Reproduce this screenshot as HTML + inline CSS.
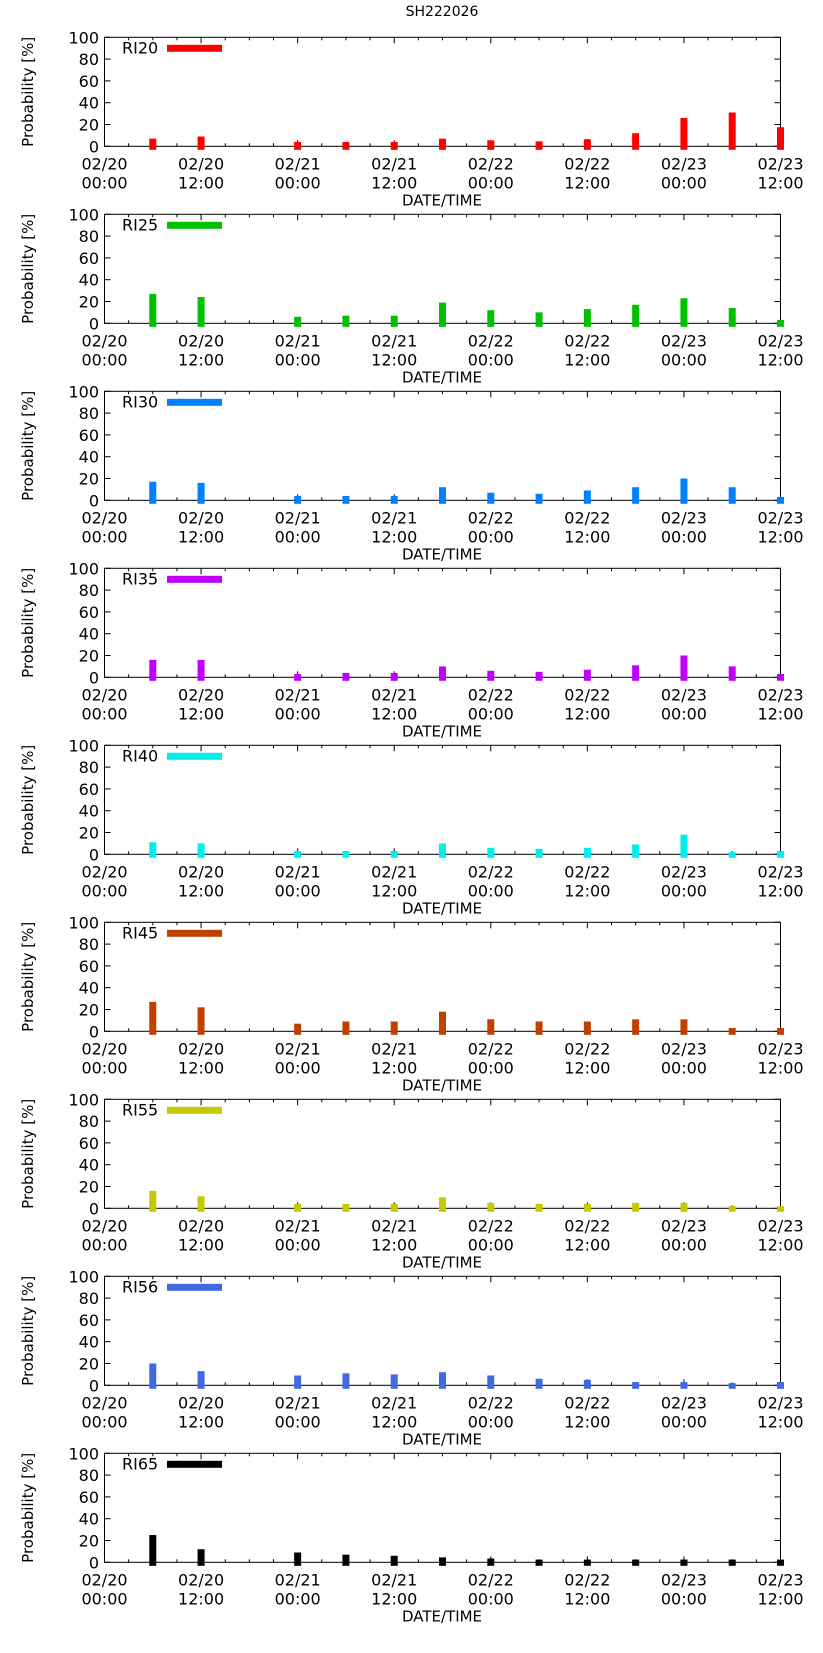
<!DOCTYPE html>
<html><head><meta charset="utf-8"><style>
html,body{margin:0;padding:0;background:#fff;}
svg{display:block;font-family:"DejaVu Sans","Liberation Sans",sans-serif;}
</style></head><body>
<svg id="chart" width="823" height="1653" viewBox="0 0 823 1653" xmlns="http://www.w3.org/2000/svg">
<text x="442" y="16" text-anchor="middle" font-size="14">SH222026</text>
</svg>
<script>
const seriesNames = ["RI20","RI25","RI30","RI35","RI40","RI45","RI55","RI56","RI65"];
const seriesColors = ["#ff0000","#00c000","#0080ff","#c000ff","#00eeee","#c04000","#c8c800","#4169e1","#000000"];
const hours = [6,12,24,30,36,42,48,54,60,66,72,78,84];
const ri20 = [7,9,4,4,4,7,5.5,4.5,6.5,12,26,31,17.5];
const ri25 = [27,24,6,7,7,19,12,10,13,17,23,14,3];
const ri30 = [17,16,4,4,4,12,7,6,9,12,20,12,3];
const ri35 = [16,16,3,4,4,10,6,5,7,11,20,10,3];
const ri40 = [11,10,3,3,3,10,6,5,6,9,18,2,3];
const ri45 = [27,22,7,9,9,18,11,9,9,11,11,3,3];
const ri55 = [16,11,4,4,4,10,5,4,4,5,5,2,2];
const ri56 = [20,13,9,11,10,12,9,6,5,3,3,2,3];
const ri65 = [25,12,9,7,6,4.5,3.5,2.5,2.5,2.5,2.5,2.5,2.5];
const allSeries = [ri20,ri25,ri30,ri35,ri40,ri45,ri55,ri56,ri65];
const yTicks = [0,20,40,60,80,100];
const xTickHours = [0,12,24,36,48,60,72,84];
const xTickDates = ["02/20","02/20","02/21","02/21","02/22","02/22","02/23","02/23"];
const xTickTimes = ["00:00","12:00","00:00","12:00","00:00","12:00","00:00","12:00"];

const NS="http://www.w3.org/2000/svg";
const svg=document.getElementById('chart');
const L=104.5,R=780.5,H=109,XMAX=84;
function mk(tag,attrs,parent){const e=document.createElementNS(NS,tag);for(const k in attrs)e.setAttribute(k,attrs[k]);(parent||svg).appendChild(e);return e;}
function xs(h){return L+(R-L)*h/XMAX;}

allSeries.forEach((vals,i)=>{
  const top=37.3+177*i, zero=top+H;
  const ys=v=>zero-H*v/100;
  const g=mk('g',{});
  
  
  const frame=mk('rect',{x:L,y:top,width:R-L,height:H,fill:'none',stroke:'#000','stroke-width':1},g);
  
  
  yTicks.forEach(t=>{
    const y=ys(t);
    mk('line',{x1:L,y1:y,x2:L+6,y2:y,stroke:'#000'},g);
    mk('line',{x1:R-6,y1:y,x2:R,y2:y,stroke:'#000'},g);
    const tl=mk('text',{x:99,y:y+6,'text-anchor':'end','font-size':16},g);
    tl.textContent=t;
    
    
  });
  for(let h=0;h<=XMAX;h+=3){
    const big=h%12===0, len=big?6:3;
    mk('line',{x1:xs(h),y1:zero,x2:xs(h),y2:zero-len,stroke:'#000'},g);
    mk('line',{x1:xs(h),y1:top,x2:xs(h),y2:top+len,stroke:'#000'},g);
  }
  xTickHours.forEach((h,k)=>{
    const a=mk('text',{x:xs(h),y:zero+23,'text-anchor':'middle','font-size':16},g);
    a.textContent=xTickDates[k];
    
    
    const b=mk('text',{x:xs(h),y:zero+42,'text-anchor':'middle','font-size':16},g);
    b.textContent=xTickTimes[k];
    
    
  });
  const xt=mk('text',{x:442,y:zero+59,'text-anchor':'middle','font-size':15},g);
  xt.textContent='DATE/TIME';
  
  
  const yt=mk('text',{x:0,y:0,'text-anchor':'middle','font-size':15,transform:`translate(33,${top+H/2}) rotate(-90)`},g);
  yt.textContent='Probability [%]';
  
  
  const lt=mk('text',{x:122,y:top+16,'font-size':16},g);
  lt.textContent=seriesNames[i];
  
  
  const ls=mk('rect',{x:167,y:top+7.5,width:55,height:7,fill:seriesColors[i]},g);
  
  
  vals.forEach((v,k)=>{
    const y=ys(v);
    const b=mk('rect',{x:xs(hours[k])-3.5,y:y,width:7,height:zero+3.5-y,fill:seriesColors[i]},g);
    
    
  });
});
</script>
</body></html>
